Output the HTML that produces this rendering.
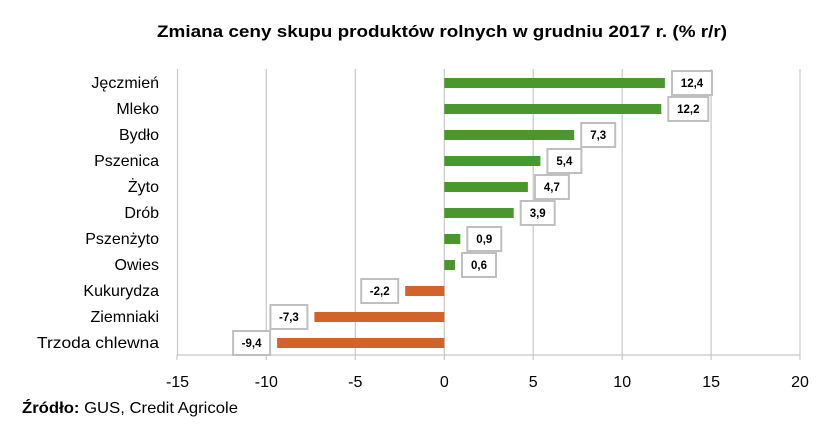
<!DOCTYPE html>
<html><head><meta charset="utf-8"><style>
html,body{margin:0;padding:0;background:#fff;}
svg{display:block;font-family:"Liberation Sans",sans-serif;}
</style></head><body>
<svg width="832" height="425" xmlns="http://www.w3.org/2000/svg">
<rect width="832" height="425" fill="#fff"/>
<text x="442" y="37" text-anchor="middle" font-size="17" font-weight="bold" fill="#000" textLength="570" lengthAdjust="spacingAndGlyphs">Zmiana ceny skupu produktów rolnych w grudniu 2017 r. (% r/r)</text>
<g stroke="#c8c8c8" stroke-width="1.2">
<line x1="177.5" y1="69" x2="177.5" y2="355"/>
<line x1="266.3" y1="69" x2="266.3" y2="355"/>
<line x1="355.3" y1="69" x2="355.3" y2="355"/>
<line x1="444.3" y1="69" x2="444.3" y2="355"/>
<line x1="533.2" y1="69" x2="533.2" y2="355"/>
<line x1="622.2" y1="69" x2="622.2" y2="355"/>
<line x1="711.1" y1="69" x2="711.1" y2="355"/>
<line x1="800" y1="69" x2="800" y2="355"/>
<line x1="177" y1="355" x2="800" y2="355"/>
<line x1="177" y1="355" x2="177" y2="360"/>
<line x1="266.3" y1="355" x2="266.3" y2="360"/>
<line x1="355.3" y1="355" x2="355.3" y2="360"/>
<line x1="444.3" y1="355" x2="444.3" y2="360"/>
<line x1="533.2" y1="355" x2="533.2" y2="360"/>
<line x1="622.2" y1="355" x2="622.2" y2="360"/>
<line x1="711.1" y1="355" x2="711.1" y2="360"/>
<line x1="800" y1="355" x2="800" y2="360"/>
</g>
<g font-size="16" fill="#000" text-anchor="middle">
<text x="177.5" y="387">-15</text><text x="266.3" y="387">-10</text><text x="355.3" y="387">-5</text><text x="444.3" y="387">0</text><text x="533.2" y="387">5</text><text x="622.2" y="387">10</text><text x="711.1" y="387">15</text><text x="800" y="387">20</text>
</g>
<g font-size="16" fill="#000" text-anchor="end">
<text x="159" y="88">Jęczmień</text>
<text x="159" y="114">Mleko</text>
<text x="159" y="140">Bydło</text>
<text x="159" y="166">Pszenica</text>
<text x="159" y="192">Żyto</text>
<text x="159" y="218">Drób</text>
<text x="159" y="244">Pszenżyto</text>
<text x="159" y="270">Owies</text>
<text x="159" y="296">Kukurydza</text>
<text x="159" y="322">Ziemniaki</text>
<text x="159" y="348" textLength="122" lengthAdjust="spacingAndGlyphs">Trzoda chlewna</text>
</g>
<g fill="#4a972d">
<rect x="444.3" y="78" width="220.6" height="10"/>
<rect x="444.3" y="104" width="217" height="10"/>
<rect x="444.3" y="130" width="129.9" height="10"/>
<rect x="444.3" y="156" width="96.1" height="10"/>
<rect x="444.3" y="182" width="83.6" height="10"/>
<rect x="444.3" y="208" width="69.4" height="10"/>
<rect x="444.3" y="234" width="16" height="10"/>
<rect x="444.3" y="260" width="10.7" height="10"/>
</g>
<g fill="#d2632b">
<rect x="405.2" y="286" width="39.1" height="10"/>
<rect x="314.4" y="312" width="129.9" height="10"/>
<rect x="277.1" y="338" width="167.2" height="10"/>
</g>
<g fill="#fff" stroke="#bfbfbf" stroke-width="2">
<rect x="672" y="71" width="40" height="24"/>
<rect x="668.3" y="97" width="40" height="24"/>
<rect x="581.2" y="123" width="34" height="24"/>
<rect x="547.4" y="149" width="34" height="24"/>
<rect x="534.9" y="175" width="34" height="24"/>
<rect x="520.7" y="201" width="34" height="24"/>
<rect x="467.3" y="227" width="34" height="24"/>
<rect x="462" y="253" width="34" height="24"/>
<rect x="361.2" y="279" width="37" height="24"/>
<rect x="270.4" y="305" width="37" height="24"/>
<rect x="233.1" y="331" width="37" height="24"/>
</g>
<g font-size="11.5" font-weight="bold" fill="#000" text-anchor="middle">
<text x="692" y="87">12,4</text>
<text x="688.3" y="113">12,2</text>
<text x="598.2" y="139">7,3</text>
<text x="564.4" y="165">5,4</text>
<text x="551.9" y="191">4,7</text>
<text x="537.7" y="217">3,9</text>
<text x="484.3" y="243">0,9</text>
<text x="479" y="269">0,6</text>
<text x="379.7" y="295">-2,2</text>
<text x="288.9" y="321">-7,3</text>
<text x="251.6" y="347">-9,4</text>
</g>
<text x="22" y="413" font-size="16" fill="#000" textLength="216" lengthAdjust="spacingAndGlyphs"><tspan font-weight="bold">Źródło:</tspan> GUS, Credit Agricole</text>
</svg>
</body></html>
